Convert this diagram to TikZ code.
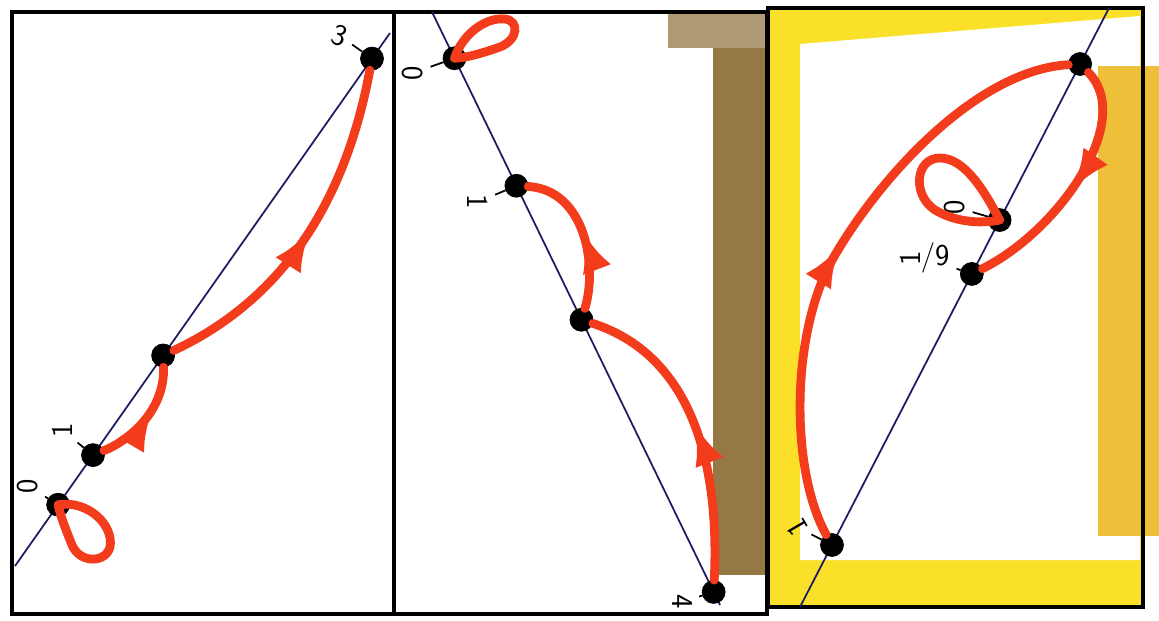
\documentclass[tikz,border=0pt]{standalone}
\usepackage{graphicx}
\usetikzlibrary{arrows.meta, calc, decorations.markings}

\definecolor{flowred}{RGB}{242,60,28}
\definecolor{lineblue}{RGB}{28,28,100}
\definecolor{tapebrown}{RGB}{150,120,68}
\definecolor{tapeyellow}{RGB}{250,224,40}
\definecolor{tapeorange}{RGB}{238,192,58}

\begin{document}
\begin{tikzpicture}[
        x=0.02cm, y=-0.02cm,
        frame/.style={draw=black, line width=2.8pt},
        axisline/.style={draw=lineblue, line width=1pt},
        blob/.style={draw, circle, fill=black, inner sep=0pt, minimum size=0.46cm},
        flow/.style={draw, color=flowred, line width=5pt, line cap=round},
        midarrow/.style={postaction={decorate, decoration={markings,
            mark=at position #1 with {\arrow{Latex[length=24pt, width=17pt]}}}}},
        tag/.style={font=\sffamily\LARGE, inner sep=1pt},
        tickmark/.style={draw, line width=1pt, shorten >=3pt}
    ]
        \useasboundingbox (0,0) rectangle (1159,621);

        % tape on the scan
        \fill[tapebrown!75!white] (668,14) rectangle (765,48);
        \fill[tapebrown] (713,48) rectangle (765,575);
        \fill[tapeyellow] (768,8) rectangle (1143,607);
        \fill[white] (800,44) -- (1140,16) -- (1140,560) -- (800,560) -- cycle;
        \fill[tapeorange] (1098,66) rectangle (1159,536);

        \draw[frame] (12,12) rectangle (767,614);
        \draw[frame] (394,12) -- (394,614);
        \draw[frame] (768,8) rectangle (1143,607);

        % left panel
        \coordinate (a0) at (15,566);
        \coordinate (a1) at (390,33);
        \draw[axisline] (a0) -- (a1);
        \node (p1a) [blob] at ($(a0)!0.115!(a1)$) {};
        \node (p1b) [blob] at ($(a0)!0.208!(a1)$) {};
        \node (p1c) [blob] at ($(a0)!0.395!(a1)$) {};
        \node (p1d) [blob] at ($(a0)!0.952!(a1)$) {};
        \node (t1a) [tag, rotate=90] at (28,486) {0};
        \node (t1b) [tag, rotate=90] at (62,430) {1};
        \node (t1d) [tag, rotate=-20] at (340,36) {3};
        \draw[tickmark] (p1a) -- (t1a);
        \draw[tickmark] (p1b) -- (t1b);
        \draw[tickmark] (p1d) -- (t1d);

        \draw[flow] (p1a.center) .. controls (88,500) and (114,525) .. (110,547)
            .. controls (106,563) and (80,564) .. (72,545)
            .. controls (66,530) and (60,515) .. (p1a.center);
        \draw[flow, midarrow=0.6] (p1b) .. controls (130,440) and (165,410) .. (p1c);
        \draw[flow, midarrow=0.52] (p1c) .. controls (260,310) and (340,230) .. (p1d);

        % middle panel
        \coordinate (b0) at (432,12);
        \coordinate (b1) at (720,605);
        \draw[axisline] (b0) -- (b1);
        \node (p2a) [blob] at ($(b0)!0.078!(b1)$) {};
        \node (p2b) [blob] at ($(b0)!0.293!(b1)$) {};
        \node (p2c) [blob] at ($(b0)!0.519!(b1)$) {};
        \node (p2d) [blob] at ($(b0)!0.978!(b1)$) {};
        \node (t2a) [tag, rotate=90] at (413,73) {0};
        \node (t2b) [tag, rotate=-90] at (478,202) {1};
        \node (t2d) [tag, rotate=-90] at (682,602) {4};
        \draw[tickmark] (p2a) -- (t2a);
        \draw[tickmark] (p2b) -- (t2b);
        \draw[tickmark] (p2d) -- (t2d);

        \draw[flow] (p2a.center) .. controls (462,35) and (485,17) .. (505,19)
            .. controls (520,21) and (518,40) .. (500,47)
            .. controls (480,54) and (465,58) .. (p2a.center);
        \draw[flow, midarrow=0.52] (p2c) .. controls (598,265) and (585,190) .. (p2b);
        \draw[flow, midarrow=0.52] (p2d) .. controls (720,460) and (690,355) .. (p2c);

        % right panel
        \coordinate (c0) at (800,607);
        \coordinate (c1) at (1109,8);
        \draw[axisline] (c0) -- (c1);
        \node (p3a) [blob] at ($(c0)!0.1035!(c1)$) {};
        \node (p3b) [blob] at ($(c0)!0.556!(c1)$) {};
        \node (p3c) [blob] at ($(c0)!0.646!(c1)$) {};
        \node (p3d) [blob] at ($(c0)!0.9065!(c1)$) {};
        \node (t3a) [tag, rotate=120] at (797,527) {1};
        \node (t3b) [tag] at (925,258) {\rotatebox{90}{1}/9};
        \node (t3c) [tag, rotate=90] at (955,207) {0};
        \draw[tickmark] (p3a) -- (t3a);
        \draw[tickmark] (p3b) -- (t3b);
        \draw[tickmark] (p3c) -- (t3c);

        \draw[flow, midarrow=0.5] (p3a) .. controls (790,470) and (790,330) .. (835,255)
            .. controls (885,170) and (980,70) .. (p3d);
        \draw[flow, midarrow=0.52] (p3d) .. controls (1135,120) and (1060,230) .. (p3b);
        \draw[flow] (p3c.center) .. controls (985,192) and (965,158) .. (940,158)
            .. controls (915,158) and (912,195) .. (935,210)
            .. controls (955,222) and (980,224) .. (p3c.center);
    \end{tikzpicture}
\end{document}
